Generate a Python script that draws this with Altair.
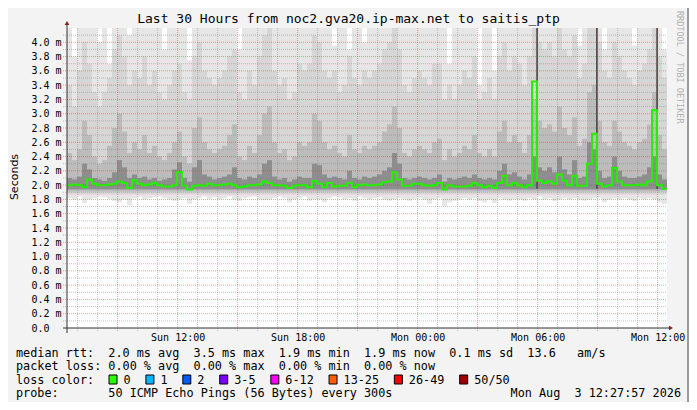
import altair as alt
import pandas as pd

# ---------------- data ----------------
START_H = 6 + 28 / 60          # Sun 06:28 (hours since Sun 00:00)
SPAN_H = 30
STEP_H = 0.25
END_H = START_H + SPAN_H
Y_MAX = 4.2

TITLE = "Last 30 Hours from noc2.gva20.ip-max.net to saitis_ptp"
X_TICK_VALUES = [12, 18, 24, 30, 36]
X_TICK_LABELS = ["Sun 12:00", "Sun 18:00", "Mon 00:00", "Mon 06:00", "Mon 12:00"]

MEDIAN = [
    2.00, 2.01, 2.00, 1.97, 2.08, 2.02, 2.00, 2.00, 2.01, 2.02,
    2.05, 2.03, 1.96, 2.07, 2.02, 2.00, 2.01, 2.03, 2.00, 1.98,
    1.98, 2.00, 2.18, 1.99, 1.94, 1.99, 2.00, 1.99, 2.02, 2.00,
    2.00, 2.01, 2.02, 2.00, 1.97, 1.98, 2.00, 2.00, 2.01, 2.05,
    2.03, 2.00, 2.00, 1.99, 1.96, 1.99, 2.00, 2.00, 1.97, 2.06,
    2.02, 1.97, 2.03, 1.98, 1.99, 1.99, 2.03, 1.97, 2.00, 2.01,
    2.00, 2.00, 2.01, 2.04, 2.05, 2.18, 2.08, 1.99, 1.99, 2.02,
    2.02, 2.00, 1.99, 2.00, 2.03, 1.94, 2.00, 1.98, 1.98, 1.98,
    1.99, 2.03, 2.00, 1.97, 1.99, 1.96, 2.03, 2.13, 2.00, 2.03,
    2.00, 1.97, 2.00, 3.45, 2.06, 2.03, 2.05, 2.02, 2.15, 2.06,
    2.00, 2.13, 1.99, 1.99, 2.30, 2.72, 2.02, 1.98, 2.00, 2.24,
    2.05, 2.00, 2.00, 2.00, 2.01, 2.00, 2.05, 3.05, 2.00, 1.95,
]

SMOKE_DARK_TOP = [
    2.10, 2.08, 2.12, 2.30, 2.22, 2.10, 2.08, 2.06, 2.10, 2.18,
    2.35, 2.25, 2.10, 2.15, 2.10, 2.12, 2.08, 2.10, 2.06, 2.08,
    2.10, 2.22, 2.32, 2.10, 2.05, 2.25, 2.35, 2.15, 2.12, 2.08,
    2.10, 2.12, 2.15, 2.25, 2.10, 2.08, 2.12, 2.10, 2.15, 2.30,
    2.35, 2.12, 2.08, 2.10, 2.05, 2.08, 2.12, 2.10, 2.10, 2.30,
    2.28, 2.15, 2.10, 2.12, 2.10, 2.08, 2.20, 2.10, 2.08, 2.12,
    2.10, 2.12, 2.15, 2.20, 2.25, 2.45, 2.30, 2.10, 2.08, 2.10,
    2.12, 2.10, 2.08, 2.10, 2.15, 2.05, 2.10, 2.08, 2.10, 2.12,
    2.10, 2.15, 2.10, 2.08, 2.10, 2.08, 2.20, 2.30, 2.15, 2.18,
    2.12, 2.08, 2.15, 2.40, 2.25, 2.20, 2.25, 2.18, 2.40, 2.22,
    2.15, 2.35, 2.10, 2.12, 2.60, 2.50, 2.20, 2.10, 2.12, 2.40,
    2.20, 2.12, 2.10, 2.10, 2.12, 2.15, 2.25, 2.40, 2.15, 2.08,
]

SMOKE_MID_TOP = [
    2.45, 2.35, 2.50, 2.90, 2.70, 2.40, 2.30, 2.35, 2.55, 2.80,
    3.00, 2.75, 2.45, 2.60, 2.50, 2.70, 2.45, 2.55, 2.40, 2.35,
    2.45, 2.60, 2.75, 2.40, 2.30, 2.80, 2.95, 2.60, 2.50, 2.45,
    2.50, 2.55, 2.70, 2.85, 2.40, 2.35, 2.55, 2.45, 2.70, 3.00,
    3.10, 2.60, 2.45, 2.50, 2.35, 2.40, 2.60, 2.55, 2.60, 3.00,
    2.90, 2.60, 2.50, 2.55, 2.45, 2.40, 2.70, 2.50, 2.45, 2.55,
    2.50, 2.55, 2.60, 2.75, 2.85, 3.10, 2.80, 2.45, 2.40, 2.50,
    2.55, 2.50, 2.45, 2.60, 2.65, 2.35, 2.50, 2.40, 2.45, 2.55,
    2.50, 2.70, 2.45, 2.40, 2.50, 2.40, 2.75, 2.90, 2.60, 2.70,
    2.60, 2.45, 2.70, 3.20, 2.90, 2.80, 2.85, 2.75, 3.10, 2.80,
    2.70, 2.95, 2.55, 2.65, 3.30, 3.40, 2.90, 2.60, 2.55, 2.90,
    2.75, 2.60, 2.55, 2.50, 2.60, 2.65, 2.85, 3.30, 2.70, 2.50,
]

SMOKE_LIGHT_TOP = [
    3.40, 3.10, 3.60, 4.00, 3.70, 3.30, 3.10, 3.30, 3.50, 3.90,
    4.10, 3.80, 3.40, 3.60, 3.50, 3.80, 3.40, 3.60, 3.30, 3.20,
    3.40, 3.60, 3.70, 3.30, 3.20, 3.80, 4.00, 3.60, 3.50, 3.40,
    3.50, 3.60, 3.80, 3.90, 3.30, 3.20, 3.60, 3.40, 3.80, 4.10,
    4.20, 3.60, 3.40, 3.50, 3.20, 3.30, 3.70, 3.60, 3.70, 4.10,
    4.00, 3.60, 3.50, 3.60, 3.30, 3.40, 3.80, 3.50, 3.40, 3.60,
    3.50, 3.60, 3.70, 3.90, 4.00, 4.20, 3.90, 3.40, 3.30, 3.50,
    3.60, 3.50, 3.40, 3.70, 3.70, 3.20, 3.40, 3.20, 3.40, 3.60,
    3.50, 3.80, 3.20, 3.30, 3.50, 3.20, 3.80, 4.00, 3.60, 3.80,
    3.70, 3.40, 3.80, 4.20, 4.00, 3.90, 4.00, 3.80, 4.20, 3.90,
    3.80, 4.10, 3.50, 3.70, 4.20, 4.20, 4.00, 3.60, 3.50, 4.00,
    3.80, 3.60, 3.50, 3.40, 3.60, 3.70, 3.90, 4.20, 3.80, 3.50,
]

SMOKE_FAINT_TOP = [
    4.20, 3.80, 4.20, 4.20, 4.20, 4.20, 4.00, 4.20, 3.70, 4.20,
    4.20, 4.20, 4.10, 4.20, 4.20, 4.20, 4.20, 4.20, 4.20, 3.90,
    4.20, 4.20, 4.20, 4.20, 3.75, 4.20, 4.20, 4.20, 4.20, 4.20,
    4.20, 4.20, 4.20, 4.20, 3.90, 4.20, 4.20, 4.20, 4.20, 4.20,
    4.00, 4.20, 4.20, 4.20, 4.20, 4.20, 4.20, 4.20, 4.20, 4.20,
    4.20, 4.20, 4.20, 3.95, 4.20, 4.20, 3.90, 4.20, 4.20, 4.00,
    4.20, 4.20, 4.20, 4.20, 4.20, 4.20, 4.20, 4.20, 4.20, 4.20,
    4.20, 4.20, 4.20, 4.20, 4.20, 4.20, 3.70, 4.20, 4.20, 4.20,
    4.20, 4.20, 3.40, 4.20, 4.20, 3.60, 4.20, 4.20, 4.20, 4.20,
    4.20, 4.20, 4.20, 4.20, 4.20, 4.20, 4.20, 4.20, 3.90, 4.20,
    4.20, 4.20, 3.95, 4.20, 4.20, 4.20, 4.20, 3.90, 4.20, 4.20,
    4.20, 4.20, 4.20, 3.95, 4.20, 4.20, 4.20, 4.20, 4.20, 3.90,
]

SMOKE_FAINT_BOTTOM = [
    1.82, 1.80, 1.84, 1.75, 1.80, 1.82, 1.84, 1.83, 1.81, 1.78,
    1.76, 1.80, 1.72, 1.82, 1.84, 1.80, 1.82, 1.83, 1.84, 1.82,
    1.80, 1.78, 1.80, 1.82, 1.74, 1.80, 1.82, 1.84, 1.81, 1.83,
    1.80, 1.82, 1.84, 1.80, 1.78, 1.82, 1.83, 1.84, 1.80, 1.79,
    1.80, 1.82, 1.84, 1.82, 1.76, 1.80, 1.82, 1.84, 1.78, 1.80,
    1.80, 1.76, 1.82, 1.84, 1.83, 1.80, 1.82, 1.78, 1.84, 1.82,
    1.80, 1.82, 1.83, 1.80, 1.78, 1.80, 1.82, 1.80, 1.78, 1.81,
    1.82, 1.80, 1.74, 1.80, 1.82, 1.70, 1.76, 1.78, 1.80, 1.82,
    1.80, 1.82, 1.78, 1.76, 1.80, 1.75, 1.82, 1.80, 1.78, 1.80,
    1.80, 1.78, 1.82, 1.80, 1.84, 1.80, 1.82, 1.78, 1.80, 1.82,
    1.80, 1.82, 1.80, 1.78, 1.80, 1.82, 1.82, 1.76, 1.80, 1.82,
    1.80, 1.82, 1.80, 1.78, 1.82, 1.80, 1.82, 1.80, 1.76, 1.74,
]

# narrow outlier columns (one 5-minute probe round each)
SPIKE_T = [29.93, 32.92, 35.93]
SPIKE_TOP = [4.20, 4.20, 4.20]

LEGEND_ROW1 = "median rtt:  2.0 ms avg  3.5 ms max  1.9 ms min  1.9 ms now  0.1 ms sd  13.6   am/s"
LEGEND_ROW2 = "packet loss: 0.00 % avg  0.00 % max  0.00 % min  0.00 % now"
LEGEND_ROW3 = "loss color:"
LEGEND_ROW4 = "probe:       50 ICMP Echo Pings (56 Bytes) every 300s"
DATE_TEXT = "Mon Aug  3 12:27:57 2026"
LOSS_LABELS = ["0", "1", "2", "3-5", "6-12", "13-25", "26-49", "50/50"]
LOSS_COLORS = ["#26ff00", "#00b8ff", "#0059ff", "#7e00ff", "#ff00ff", "#ff5e00", "#ff0000", "#a10000"]
SIDE_TEXT = "RRDTOOL / TOBI OETIKER"

# ---------------- layout helpers (page px -> view px) ----------------
PLOT_X0, PLOT_Y0 = 67, 28
SVG_W, SVG_H = 681, 394
PAD_L, PAD_T = PLOT_X0 - 8, PLOT_Y0 - 8
PLOT_W, PLOT_H = 600, 300


def sx(x):
    return x - PLOT_X0


def sy(y):
    return y - PLOT_Y0


MONO = "DejaVu Sans Mono"
LEG_SIZE = 11.8


def nb(s):
    return s.replace(" ", "\u00a0")


# ---------------- tables ----------------
n = len(MEDIAN)
t0 = [START_H + i * STEP_H for i in range(n)]
t1 = [t + STEP_H for t in t0]
smoke = pd.DataFrame({
    "t0": t0, "t1": t1,
    "faint_lo": SMOKE_FAINT_BOTTOM, "faint_hi": SMOKE_FAINT_TOP,
    "light_hi": SMOKE_LIGHT_TOP, "mid_hi": SMOKE_MID_TOP, "dark_hi": SMOKE_DARK_TOP,
})
smoke["light_lo"] = 1.87
smoke["mid_lo"] = 1.91
smoke["dark_lo"] = 1.94

spikes = pd.DataFrame({"t0": SPIKE_T, "t1": [t + 5 / 60 for t in SPIKE_T], "hi": SPIKE_TOP})
spikes["lo"] = 1.95

median_df = pd.DataFrame({"t": t0 + [END_H], "v": MEDIAN + [MEDIAN[-1]]})

hours = list(range(7, 37))
vmajor = pd.DataFrame({"h": [h for h in hours if h % 3 == 0]})
vminor = pd.DataFrame({"h": [h for h in hours if h % 3 != 0]})
hmajor = pd.DataFrame({"v": [round(0.2 * k, 1) for k in range(1, 21)]})
hminor = pd.DataFrame({"v": [round(0.1 * k, 1) for k in range(1, 42) if k % 2 == 1]})

# ---------------- scales / axes ----------------
xscale = alt.Scale(domain=[START_H, END_H], nice=False, zero=False)
yscale = alt.Scale(domain=[0, Y_MAX], nice=False)

x_expr = " : ".join(f"datum.value == {v} ? '{l}'" for v, l in zip(X_TICK_VALUES, X_TICK_LABELS)) + " : ''"
xaxis = alt.Axis(values=X_TICK_VALUES, labelExpr=x_expr, ticks=False, tickSize=0, domain=False,
                 grid=False, labelFont=MONO, labelFontSize=10, labelColor="#000000",
                 labelPadding=4, labelFlush=False, labelOverlap=False, title="")
yaxis = alt.Axis(values=[round(0.2 * k, 1) for k in range(21)],
                 labelExpr="datum.value == 0 ? '0.0' : format(datum.value, '.1f') + ' m'",
                 ticks=False, tickSize=0, domain=False, grid=False, labelFont=MONO,
                 labelFontSize=10, labelColor="#000000", labelAlign="left",
                 labelBaseline="middle", labelPadding=36, labelOverlap=False, title="")


def rect_layer(df, lo, hi, color):
    return alt.Chart(df).mark_rect(color=color, strokeWidth=0).encode(
        x=alt.X("t0:Q", scale=xscale, axis=xaxis),
        x2="t1:Q",
        y=alt.Y(f"{lo}:Q", scale=yscale, axis=yaxis),
        y2=f"{hi}:Q",
    )


layers = [
    rect_layer(smoke, "faint_lo", "faint_hi", "#e6e6e6"),
    rect_layer(smoke, "light_lo", "light_hi", "#d6d6d6"),
    rect_layer(smoke, "mid_lo", "mid_hi", "#bcbcbc"),
    rect_layer(smoke, "dark_lo", "dark_hi", "#8e8e8e"),
    rect_layer(spikes, "lo", "hi", "#4a4a4a"),
]

# grid
layers.append(alt.Chart(vminor).mark_rule(color="#7f7f7f", opacity=0.45, strokeDash=[1, 1], strokeWidth=1).encode(
    x=alt.X("h:Q", scale=xscale, axis=xaxis), y=alt.value(0), y2=alt.value(303)))
layers.append(alt.Chart(hminor).mark_rule(color="#7f7f7f", opacity=0.45, strokeDash=[1, 1], strokeWidth=1).encode(
    y=alt.Y("v:Q", scale=yscale, axis=yaxis), x=alt.value(-4), x2=alt.value(600)))
layers.append(alt.Chart(vmajor).mark_rule(color="#d03030", opacity=0.45, strokeDash=[1, 1], strokeWidth=1).encode(
    x=alt.X("h:Q", scale=xscale, axis=xaxis), y=alt.value(0), y2=alt.value(303)))
layers.append(alt.Chart(hmajor).mark_rule(color="#d03030", opacity=0.45, strokeDash=[1, 1], strokeWidth=1).encode(
    y=alt.Y("v:Q", scale=yscale, axis=yaxis), x=alt.value(-4), x2=alt.value(600)))

# median line
layers.append(alt.Chart(median_df).mark_line(color="#22f000", strokeWidth=2, interpolate="step-after").encode(
    x=alt.X("t:Q", scale=xscale, axis=xaxis), y=alt.Y("v:Q", scale=yscale, axis=yaxis)))

one = pd.DataFrame({"k": [0]})
# axis lines and arrows
layers.append(alt.Chart(one).mark_rule(color="#333333", strokeWidth=1).encode(
    x=alt.value(0), y=alt.value(-4), y2=alt.value(305)))
layers.append(alt.Chart(one).mark_rule(color="#333333", strokeWidth=1).encode(
    x=alt.value(-4), x2=alt.value(603), y=alt.value(300)))
layers.append(alt.Chart(one).mark_point(shape="triangle-up", filled=True, size=22, color="#8b1a1a", opacity=1).encode(
    x=alt.value(0), y=alt.value(-5)))
layers.append(alt.Chart(one).mark_point(shape="triangle-right", filled=True, size=22, color="#8b1a1a", opacity=1).encode(
    x=alt.value(604), y=alt.value(300)))


def text_layer(s, x, y, size, font=MONO, align="left", angle=0, color="#000000"):
    df = pd.DataFrame({"s": [nb(s)]})
    return alt.Chart(df).mark_text(font=font, fontSize=size, align=align, baseline="middle",
                                   angle=angle, color=color).encode(
        text="s:N", x=alt.value(x), y=alt.value(y))


layers.append(text_layer(TITLE, sx(348.5), sy(19), 13, align="center"))
layers.append(text_layer("Seconds", sx(15), sy(177), 11, font="DejaVu Sans", align="center", angle=270))
layers.append(text_layer(SIDE_TEXT, sx(680), sy(11), 8.5, align="left", angle=90, color="#b0b0b0"))

rows_y = [352.5, 366, 379.5, 392.5]
layers.append(text_layer(LEGEND_ROW1, sx(16), sy(rows_y[0]), LEG_SIZE))
layers.append(text_layer(LEGEND_ROW2, sx(16), sy(rows_y[1]), LEG_SIZE))
layers.append(text_layer(LEGEND_ROW3, sx(16), sy(rows_y[2]), LEG_SIZE))
layers.append(text_layer(LEGEND_ROW4, sx(16), sy(rows_y[3]), LEG_SIZE))
layers.append(text_layer(DATE_TEXT, sx(681), sy(rows_y[3]), LEG_SIZE, align="right"))

# loss colour boxes
char_w = 0.602 * LEG_SIZE
bx = 109.0
for lab, col in zip(LOSS_LABELS, LOSS_COLORS):
    layers.append(alt.Chart(one).mark_rect(color=col, stroke="#000000", strokeWidth=1).encode(
        x=alt.value(sx(bx)), x2=alt.value(sx(bx + 8)),
        y=alt.value(sy(rows_y[2] - 4.5)), y2=alt.value(sy(rows_y[2] + 4.5))))
    lx = bx + 14.5
    layers.append(text_layer(lab, sx(lx), sy(rows_y[2]), LEG_SIZE))
    bx = lx + len(lab) * char_w + 15.3

# frame shading on the right edge
layers.append(alt.Chart(one).mark_rule(color="#9a9a9a", strokeWidth=2).encode(
    x=alt.value(SVG_W - PAD_L - 1), y=alt.value(-PAD_T), y2=alt.value(SVG_H - PAD_T)))

chart = alt.layer(*layers).properties(
    width=PLOT_W, height=PLOT_H,
    autosize=alt.AutoSizeParams(type="none"),
    padding={"left": PAD_L, "top": PAD_T, "right": SVG_W - PAD_L - PLOT_W, "bottom": SVG_H - PAD_T - PLOT_H},
).configure(background="#f3f3f3").configure_view(fill="#ffffff", strokeWidth=0)

chart.save("out.html", embed_options={"renderer": "svg", "actions": False})
